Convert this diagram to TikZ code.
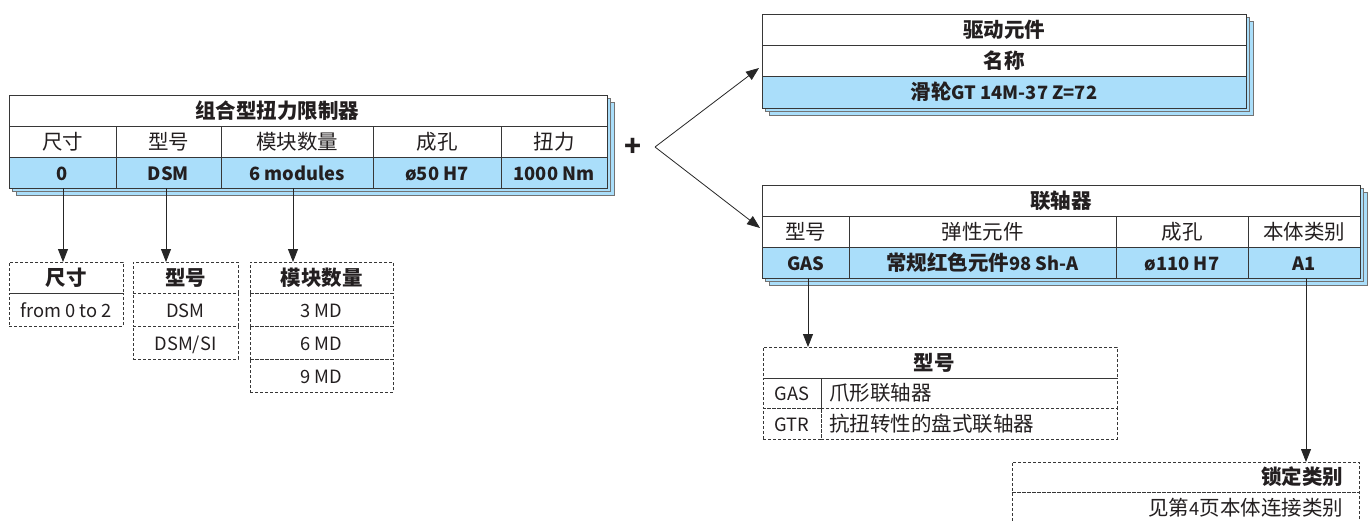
\documentclass[tikz,border=0pt]{standalone}
\usepackage{fontspec}
\setmainfont{Noto Sans CJK SC}
\usetikzlibrary{arrows.meta,calc}
\definecolor{valblue}{RGB}{170,222,250}
\definecolor{linegray}{RGB}{55,55,55}
\definecolor{shadowgray}{RGB}{115,115,115}
\definecolor{txt}{RGB}{35,31,32}
\newcommand\cellfont{\fontsize{20.5}{22}\selectfont}
\newcommand\lt[1]{{\fontsize{18.3}{22}\selectfont #1}}
\newcommand\shadowstack[4]{%
  \draw[shadowbox] ($(#1,#2)+(7.5,7.5)$) rectangle ($(#3,#4)+(7.5,7.5)$);
  \draw[shadowbox] ($(#1,#2)+(3.8,3.8)$) rectangle ($(#3,#4)+(3.8,3.8)$);}
\tikzset{
  every node/.style={inner sep=0pt, outer sep=0pt, text=txt, font=\cellfont, text height=16pt, text depth=1pt},
  tcell/.style={draw=linegray, line width=0.8pt, anchor=north west, fill=white},
  vcell/.style={tcell, fill=valblue, font=\bfseries\cellfont},
  dcell/.style={draw=linegray, line width=0.8pt, dash pattern=on 3pt off 2pt, anchor=north west},
  shadowbox/.style={draw=shadowgray, line width=0.8pt, fill=valblue},
  arr/.style={draw=black!85, line width=0.8pt, -{Triangle[width=10pt,length=13pt]}},
  btxt/.style={font=\bfseries\cellfont},
}
\begin{document}
\begin{tikzpicture}[x=1pt,y=-1pt]
\useasboundingbox (0,0) rectangle (1369,520);
\clip (0,0) rectangle (1369,520);
\fill[white] (0,0) rectangle (1369,520);

% ---------- main table ----------
\shadowstack{9}{95}{607}{188}
\node[tcell, minimum width=598pt, minimum height=31pt] (mt) at (9,95) {};
\node[btxt] (mtt) at (277,110.5) {组合型扭力限制器};
\node[tcell, minimum width=107pt, minimum height=31pt] (mh1) at (9,126) {尺寸};
\node[tcell, minimum width=105pt, minimum height=31pt] (mh2) at (116,126) {型号};
\node[tcell, minimum width=152pt, minimum height=31pt] (mh3) at (221,126) {模块数量};
\node[tcell, minimum width=128pt, minimum height=31pt] (mh4) at (373,126) {成孔};
\node[tcell, minimum width=106pt, minimum height=31pt] (mh5) at (501,126) {扭力};
\node[vcell, minimum width=107pt, minimum height=31pt] (mv1) at (9,157) {\lt{0}};
\node[vcell, minimum width=105pt, minimum height=31pt] (mv2) at (116,157) {\lt{DSM}};
\node[vcell, minimum width=152pt, minimum height=31pt] (mv3) at (221,157) {\lt{6 modules}};
\node[vcell, minimum width=128pt, minimum height=31pt] (mv4) at (373,157) {\lt{ø50 H7}};
\node[vcell, minimum width=106pt, minimum height=31pt] (mv5) at (501,157) {\lt{1000 Nm}};

% ---------- drive element table ----------
\shadowstack{762}{14}{1246}{108}
\node[tcell, btxt, minimum width=484pt, minimum height=31pt] (r1t) at (762,14) {驱动元件};
\node[tcell, btxt, minimum width=484pt, minimum height=31pt] (r1h) at (762,45) {名称};
\node[vcell, minimum width=484pt, minimum height=32pt] (r1v) at (762,76) {滑轮\lt{GT 14M-37 Z=72}};

% ---------- coupling table ----------
\shadowstack{762}{185}{1360}{278}
\node[tcell, btxt, minimum width=598pt, minimum height=31pt] (r2t) at (762,185) {联轴器};
\node[tcell, minimum width=87pt, minimum height=31pt] (r2h1) at (762,216) {型号};
\node[tcell, minimum width=267pt, minimum height=31pt] (r2h2) at (849,216) {弹性元件};
\node[tcell, minimum width=132pt, minimum height=31pt] (r2h3) at (1116,216) {成孔};
\node[tcell, minimum width=112pt, minimum height=31pt] (r2h4) at (1248,216) {本体类别};
\node[vcell, minimum width=87pt, minimum height=31pt] (r2v1) at (762,247) {\lt{GAS}};
\node[vcell, minimum width=267pt, minimum height=31pt] (r2v2) at (849,247) {常规红色元件\lt{98 Sh-A}};
\node[vcell, minimum width=132pt, minimum height=31pt] (r2v3) at (1116,247) {\lt{ø110 H7}};
\node[vcell, minimum width=112pt, minimum height=31pt] (r2v4) at (1248,247) {\lt{A1}};

% ---------- plus and fork ----------
\node[font=\bfseries\fontsize{28}{28}\selectfont, text height=, text depth=] (plus) at (633,147) {+};
\coordinate (fork) at (655,147);
\draw[arr] (fork) -- ($(r1h.west)+(-3,7.5)$);
\draw[arr] (fork) -- ($(r2h1.west)+(-2,-3.5)$);

% ---------- dashed option boxes ----------
\node[dcell, btxt, minimum width=114pt, minimum height=31pt] (b1h) at (9,262) {尺寸};
\node[dcell, minimum width=114pt, minimum height=33pt] (b1r1) at (9,293) {\lt{from 0 to 2}};

\node[dcell, btxt, minimum width=105pt, minimum height=31pt] (b2h) at (133,262) {型号};
\node[dcell, minimum width=105pt, minimum height=33pt] (b2r1) at (133,293) {\lt{DSM}};
\node[dcell, minimum width=105pt, minimum height=33pt] (b2r2) at (133,326) {\lt{DSM/SI}};

\node[dcell, btxt, minimum width=143pt, minimum height=31pt] (b3h) at (250,262) {模块数量};
\node[dcell, minimum width=143pt, minimum height=33pt] (b3r1) at (250,293) {\lt{3 MD}};
\node[dcell, minimum width=143pt, minimum height=33pt] (b3r2) at (250,326) {\lt{6 MD}};
\node[dcell, minimum width=143pt, minimum height=33pt] (b3r3) at (250,359) {\lt{9 MD}};

\node[dcell, minimum width=354pt, minimum height=31pt] (b4h) at (763,347) {};
\node[btxt] (b4ht) at (934,362.5) {型号};
\node[dcell, minimum width=58pt, minimum height=30pt] (b4a1) at (763,378) {\lt{GAS}};
\node[dcell, minimum width=296pt, minimum height=30pt] (b4a2) at (821,378) {};
\node[anchor=west] (b4a2t) at (829,393) {爪形联轴器};
\node[dcell, minimum width=58pt, minimum height=31pt] (b4b1) at (763,408) {\lt{GTR}};
\node[dcell, minimum width=296pt, minimum height=31pt] (b4b2) at (821,408) {};
\node[anchor=west] (b4b2t) at (829,423.5) {抗扭转性的盘式联轴器};

\node[dcell, minimum width=347pt, minimum height=30pt] (b5h) at (1012,462) {};
\node[btxt, anchor=east] (b5ht) at (1343,477) {锁定类别};
\node[dcell, minimum width=347pt, minimum height=40pt] (b5r) at (1012,492) {};
\node[anchor=east] (b5rt) at (1343,507.5) {见第\lt{4}页本体连接类别};

% ---------- connectors ----------
\draw[arr] ([xshift=0.5pt]mv1.south) -- ([xshift=0.5pt]mv1.south |- b1h.north);
\draw[arr] ([xshift=-2.5pt]mv2.south) -- ([xshift=-2.5pt]mv2.south |- b2h.north);
\draw[arr] ([xshift=-4pt]mv3.south) -- ([xshift=-4pt]mv3.south |- b3h.north);
\draw[arr] ([xshift=2.5pt]r2v1.south) -- ([xshift=2.5pt]r2v1.south |- b4h.north);
\draw[arr] ([xshift=2pt]r2v4.south) -- ([xshift=2pt]r2v4.south |- b5h.north);
\end{tikzpicture}
\end{document}
